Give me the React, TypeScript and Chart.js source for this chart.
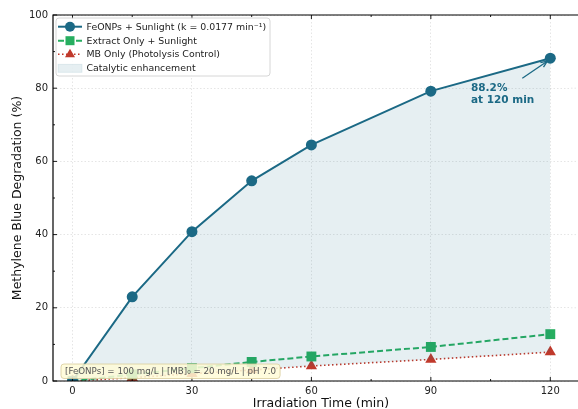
import React, { useEffect, useRef } from "react";
import { Chart, registerables } from "chart.js";

Chart.register(...registerables);

const times = [0, 15, 30, 45, 60, 90, 120];
const feonps = [0, 23.0, 40.8, 54.7, 64.5, 79.2, 88.2];
const extractOnly = [0, 1.8, 3.5, 5.2, 6.7, 9.3, 12.8];
const mbOnly = [0, 0.9, 2.0, 3.0, 4.1, 5.9, 7.9];
const xTicks = [0, 30, 60, 90, 120];
const xMinor = [15, 45, 75, 105];
const yTicks = [0, 20, 40, 60, 80, 100];
const yMinor = [10, 30, 50, 70, 90];
const legendLabels = [
  "FeONPs + Sunlight (k = 0.0177 min⁻¹)",
  "Extract Only + Sunlight",
  "MB Only (Photolysis Control)",
  "Catalytic enhancement",
];
const annoText = ["88.2%", "at 120 min"];
const infoText = "[FeONPs] = 100 mg/L | [MB]₀ = 20 mg/L | pH 7.0";
const xTitle = "Irradiation Time (min)";
const yTitle = "Methylene Blue Degradation (%)";

const BLUE = "#1b6985";
const GREEN = "#27ae60";
const RED = "#c0392b";
const FILL = "rgba(27,105,140,0.11)";
const FONT = "'DejaVu Sans', sans-serif";

function roundRect(ctx: CanvasRenderingContext2D, x: number, y: number, w: number, h: number, r: number) {
  ctx.beginPath();
  ctx.moveTo(x + r, y);
  ctx.lineTo(x + w - r, y);
  ctx.arcTo(x + w, y, x + w, y + r, r);
  ctx.lineTo(x + w, y + h - r);
  ctx.arcTo(x + w, y + h, x + w - r, y + h, r);
  ctx.lineTo(x + r, y + h);
  ctx.arcTo(x, y + h, x, y + h - r, r);
  ctx.lineTo(x, y + r);
  ctx.arcTo(x, y, x + r, y, r);
  ctx.closePath();
}

const decorPlugin = {
  id: "decor",
  beforeDatasetsDraw(chart: any) {
    const ctx: CanvasRenderingContext2D = chart.ctx;
    const { right } = chart.chartArea;
    const ys = chart.scales.y;
    ctx.save();
    ctx.strokeStyle = "rgba(0,0,0,0.13)";
    ctx.lineWidth = 0.8;
    ctx.setLineDash([1.5, 2]);
    ctx.beginPath();
    for (const v of yTicks.slice(1, -1)) {
      const py = ys.getPixelForValue(v);
      ctx.moveTo(right, py); ctx.lineTo(chart.width, py);
    }
    ctx.stroke();
    ctx.restore();
  },
  afterDatasetsDraw(chart: any) {
    const ctx: CanvasRenderingContext2D = chart.ctx;
    const { left, top, bottom } = chart.chartArea;
    const xs = chart.scales.x;
    const ys = chart.scales.y;
    const W = chart.width;
    ctx.save();
    ctx.strokeStyle = "#000";
    ctx.lineWidth = 1.2;
    ctx.beginPath();
    ctx.moveTo(W + 2, top);
    ctx.lineTo(left, top);
    ctx.lineTo(left, bottom);
    ctx.lineTo(W + 2, bottom);
    ctx.stroke();
    ctx.lineWidth = 0.9;
    ctx.beginPath();
    for (const v of xTicks) {
      const px = xs.getPixelForValue(v);
      ctx.moveTo(px, bottom); ctx.lineTo(px, bottom - 4);
      ctx.moveTo(px, top); ctx.lineTo(px, top + 4);
    }
    for (const v of xMinor) {
      const px = xs.getPixelForValue(v);
      ctx.moveTo(px, bottom); ctx.lineTo(px, bottom - 2);
      ctx.moveTo(px, top); ctx.lineTo(px, top + 2);
    }
    for (const v of yTicks) {
      const py = ys.getPixelForValue(v);
      ctx.moveTo(left, py); ctx.lineTo(left + 4, py);
    }
    for (const v of yMinor) {
      const py = ys.getPixelForValue(v);
      ctx.moveTo(left, py); ctx.lineTo(left + 2, py);
    }
    ctx.stroke();

    ctx.fillStyle = "#111";
    ctx.font = `12.5px ${FONT}`;
    ctx.textAlign = "center";
    ctx.textBaseline = "middle";
    ctx.fillText(xTitle, 321, 404);
    ctx.save();
    ctx.translate(18, (top + bottom) / 2);
    ctx.rotate(-Math.PI / 2);
    ctx.fillText(yTitle, 0, 0);
    ctx.restore();

    const ax = xs.getPixelForValue(120);
    const ay = ys.getPixelForValue(88.2);
    ctx.strokeStyle = BLUE;
    ctx.fillStyle = BLUE;
    ctx.lineWidth = 1.3;
    const sx = ax - 28, sy = ay + 20;
    const ex = ax - 3, ey = ay + 3;
    ctx.beginPath();
    ctx.moveTo(sx, sy); ctx.lineTo(ex, ey); ctx.stroke();
    const ang = Math.atan2(ey - sy, ex - sx);
    ctx.beginPath();
    ctx.moveTo(ex, ey);
    ctx.lineTo(ex - 7 * Math.cos(ang - 0.4), ey - 7 * Math.sin(ang - 0.4));
    ctx.moveTo(ex, ey);
    ctx.lineTo(ex - 7 * Math.cos(ang + 0.4), ey - 7 * Math.sin(ang + 0.4));
    ctx.stroke();
    ctx.font = `bold 10.5px ${FONT}`;
    ctx.textAlign = "left";
    ctx.textBaseline = "alphabetic";
    ctx.fillText(annoText[0], 471, 91);
    ctx.fillText(annoText[1], 471, 103);

    ctx.font = `8.7px ${FONT}`;
    const tw = ctx.measureText(infoText).width;
    const bx = 61, by = 364, bh = 14.5;
    roundRect(ctx, bx, by, tw + 8, bh, 3);
    ctx.fillStyle = "rgba(255,252,215,0.85)";
    ctx.fill();
    ctx.strokeStyle = "#d8cc9a";
    ctx.lineWidth = 0.8;
    ctx.stroke();
    ctx.fillStyle = "#555";
    ctx.textBaseline = "middle";
    ctx.fillText(infoText, bx + 4, by + bh / 2 + 0.5);

    const lx = 56, ly = 18, lw = 214, lh = 58;
    roundRect(ctx, lx, ly, lw, lh, 3);
    ctx.fillStyle = "rgba(255,255,255,0.85)";
    ctx.fill();
    ctx.strokeStyle = "#cccccc";
    ctx.lineWidth = 0.8;
    ctx.stroke();
    const rowY = [26.7, 40.7, 54.3, 68.3];
    const x0 = 58, x1 = 82, xm = 70;
    ctx.setLineDash([]);
    ctx.strokeStyle = BLUE; ctx.lineWidth = 2;
    ctx.beginPath(); ctx.moveTo(x0, rowY[0]); ctx.lineTo(x1, rowY[0]); ctx.stroke();
    ctx.fillStyle = BLUE;
    ctx.beginPath(); ctx.arc(xm, rowY[0], 5, 0, Math.PI * 2); ctx.fill();
    ctx.strokeStyle = GREEN; ctx.setLineDash([6, 3]);
    ctx.beginPath(); ctx.moveTo(x0, rowY[1]); ctx.lineTo(x1, rowY[1]); ctx.stroke();
    ctx.setLineDash([]);
    ctx.fillStyle = GREEN;
    ctx.fillRect(xm - 4.5, rowY[1] - 4.5, 9, 9);
    ctx.strokeStyle = RED; ctx.lineWidth = 1.5; ctx.setLineDash([1.5, 2.5]);
    ctx.beginPath(); ctx.moveTo(x0, rowY[2]); ctx.lineTo(x1, rowY[2]); ctx.stroke();
    ctx.setLineDash([]);
    ctx.fillStyle = RED;
    ctx.beginPath();
    ctx.moveTo(xm, rowY[2] - 5.5);
    ctx.lineTo(xm + 5, rowY[2] + 3);
    ctx.lineTo(xm - 5, rowY[2] + 3);
    ctx.closePath(); ctx.fill();
    ctx.fillStyle = FILL;
    ctx.fillRect(x0, rowY[3] - 4, x1 - x0, 8);
    ctx.strokeStyle = "rgba(27,105,140,0.12)"; ctx.lineWidth = 0.8;
    ctx.strokeRect(x0, rowY[3] - 4, x1 - x0, 8);
    ctx.fillStyle = "#222";
    ctx.font = `9.4px ${FONT}`;
    ctx.textBaseline = "middle";
    legendLabels.forEach((t, i) => ctx.fillText(t, 86.5, rowY[i] + 0.5));
    ctx.restore();
  },
};

export default function App() {
  const ref = useRef<HTMLCanvasElement | null>(null);
  useEffect(() => {
    document.body.style.margin = "0";
    const mk = (vals: number[]) => times.map((t, i) => ({ x: t, y: vals[i] }));
    const chart = new Chart(ref.current as HTMLCanvasElement, {
      type: "line",
      data: {
        datasets: [
          {
            label: legendLabels[0],
            data: mk(feonps),
            borderColor: BLUE,
            backgroundColor: FILL,
            pointBackgroundColor: BLUE,
            pointBorderColor: BLUE,
            pointBorderWidth: 0,
            borderWidth: 2,
            pointRadius: 5.5,
            pointStyle: "circle",
            fill: { target: 2 },
            clip: 0,
            order: 1,
          } as any,
          {
            label: legendLabels[1],
            data: mk(extractOnly),
            borderColor: GREEN,
            backgroundColor: GREEN,
            pointBackgroundColor: GREEN,
            pointBorderColor: GREEN,
            pointBorderWidth: 0,
            borderWidth: 2,
            borderDash: [6, 3],
            pointRadius: 7,
            pointStyle: "rect",
            fill: false,
            clip: 0,
            order: 2,
          } as any,
          {
            label: legendLabels[2],
            data: mk(mbOnly),
            borderColor: RED,
            backgroundColor: RED,
            pointBackgroundColor: RED,
            pointBorderColor: RED,
            pointBorderWidth: 0,
            borderWidth: 1.6,
            borderDash: [1.5, 2.5],
            pointRadius: 6.5,
            pointStyle: "triangle",
            fill: false,
            clip: 0,
            order: 3,
          } as any,
        ],
      },
      options: {
        animation: false,
        responsive: false,
        maintainAspectRatio: false,
        layout: { padding: { top: 15, right: 0, left: 0, bottom: 0 } },
        plugins: { legend: { display: false }, tooltip: { enabled: false } },
        elements: { line: { tension: 0 } },
        scales: {
          x: {
            type: "linear",
            min: -4.9,
            max: 125.2,
            afterFit: (s: any) => { s.height = 28; s.paddingLeft = 0; s.paddingRight = 0; },
            afterBuildTicks: (s: any) => { s.ticks = xTicks.map((v) => ({ value: v })); },
            ticks: { font: { size: 10, family: FONT }, color: "#222", padding: 4, maxRotation: 0 },
            grid: { drawTicks: false, color: "rgba(0,0,0,0.13)", lineWidth: 0.8 },
            border: { display: false, dash: [1.5, 2] },
          },
          y: {
            type: "linear",
            min: 0,
            max: 100,
            afterFit: (s: any) => { s.width = 53; s.paddingTop = 0; s.paddingBottom = 0; },
            afterBuildTicks: (s: any) => { s.ticks = yTicks.map((v) => ({ value: v })); },
            ticks: { font: { size: 10, family: FONT }, color: "#222", padding: 5 },
            grid: { drawTicks: false, color: "rgba(0,0,0,0.13)", lineWidth: 0.8 },
            border: { display: false, dash: [1.5, 2] },
          },
        },
      },
      plugins: [decorPlugin],
    });
    return () => chart.destroy();
  }, []);
  return (
    <div style={{ position: "absolute", left: 0, top: 0, width: 578, height: 409, background: "#fff" }}>
      <canvas ref={ref} width={578} height={409} style={{ width: 578, height: 409, display: "block" }} />
    </div>
  );
}
